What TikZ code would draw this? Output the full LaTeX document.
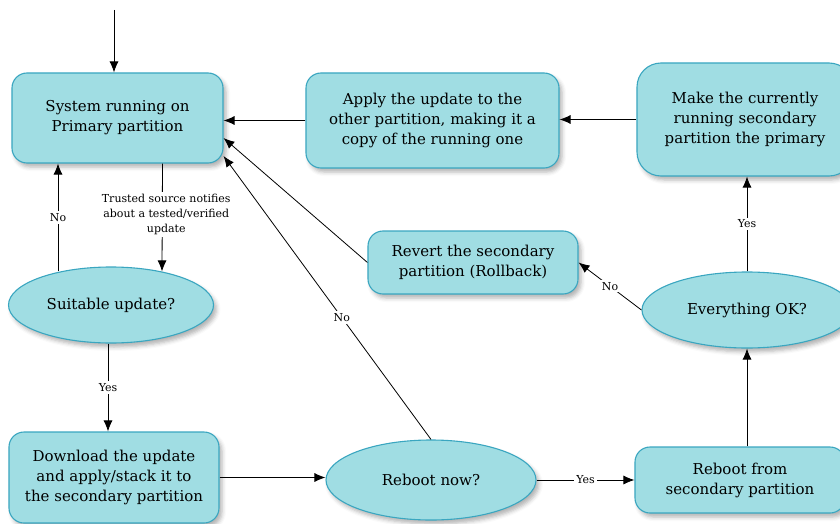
\documentclass[tikz,border=0pt]{standalone}
\usepackage{fontspec}
\setmainfont{DejaVu Serif}
\usetikzlibrary{shapes.geometric,arrows.meta,shadows.blur}
\definecolor{boxfill}{RGB}{160,221,227}
\definecolor{boxline}{RGB}{58,166,192}
\tikzset{
  base/.style={draw=boxline, fill=boxfill, line width=1.1pt, align=center, inner sep=0pt,
    font=\fontsize{15}{20}\selectfont,
    blur shadow={shadow xshift=3pt, shadow yshift=-4pt, shadow blur radius=4pt, shadow opacity=30}},
  proc/.style={base, rectangle, rounded corners=15pt},
  dec/.style={base, ellipse},
  conn/.style={-{Latex[length=11pt,width=9pt]}, line width=0.8pt},
  lbl/.style={font=\fontsize{11}{15}\selectfont, fill=white, inner sep=2pt, align=center}
}
\begin{document}
\begin{tikzpicture}[x=1pt,y=-1pt]
\useasboundingbox (0,0) rectangle (840,524);

\node[proc, minimum width=211pt, minimum height=90pt] (A) at (117.5,118) {System running on\\Primary partition};
\node[proc, minimum width=253pt, minimum height=95pt] (B) at (432.5,120.5) {Apply the update to the\\other partition, making it a\\copy of the running one};
\node[proc, rounded corners=24pt, minimum width=216pt, minimum height=113pt] (C) at (745,119.5) {Make the currently\\running secondary\\partition the primary};
\node[proc, minimum width=210pt, minimum height=63pt] (D) at (473,262.5) {Revert the secondary\\partition (Rollback)};
\node[dec, minimum width=210pt, minimum height=76pt] (E) at (747,310) {Everything OK?};
\node[dec, minimum width=205pt, minimum height=76pt] (F) at (111,305) {Suitable update?};
\node[proc, minimum width=210pt, minimum height=91pt] (G) at (114,477.5) {Download the update\\and apply/stack it to\\the secondary partition};
\node[dec, minimum width=210pt, minimum height=80pt] (H) at (431,480) {Reboot now?};
\node[proc, minimum width=210pt, minimum height=66pt] (I) at (740,480) {Reboot from\\secondary partition};

\coordinate (start) at (114,10);
\draw[conn] (start) -- (start |- A.north);

\draw[conn] ([xshift=45pt]A.south) -- node[lbl, pos=0.47, xshift=4pt] {Trusted source notifies\\about a tested/verified\\update} ([xshift=51pt,yshift=-5pt]F.north);
\draw[conn] ([xshift=-53pt,yshift=-5pt]F.north) -- node[lbl] {No} ([xshift=-53pt]F.north |- A.south);
\draw[conn] ([xshift=-3pt]F.south) -- node[lbl] {Yes} ([xshift=-3pt]F.south |- G.north);
\draw[conn] (G.east) -- (G.east -| H.west);
\draw[conn] (H.east) -- node[lbl] {Yes} (I.west);
\draw[conn] (E.south |- I.north) -- (E.south);
\draw[conn] (E.north) -- node[lbl] {Yes} (E.north |- C.south);
\draw[conn] (E.west) -- node[lbl] {No} (D.east);
\draw[conn] (D.west) -- ([yshift=-20pt]A.east);
\draw[conn] (H.north) -- node[lbl, pos=0.43] {No} ([yshift=-38pt]A.east);
\draw[conn] (B.west) -- (B.west -| A.east);
\draw[conn] (C.west) -- (C.west -| B.east);
\end{tikzpicture}
\end{document}
